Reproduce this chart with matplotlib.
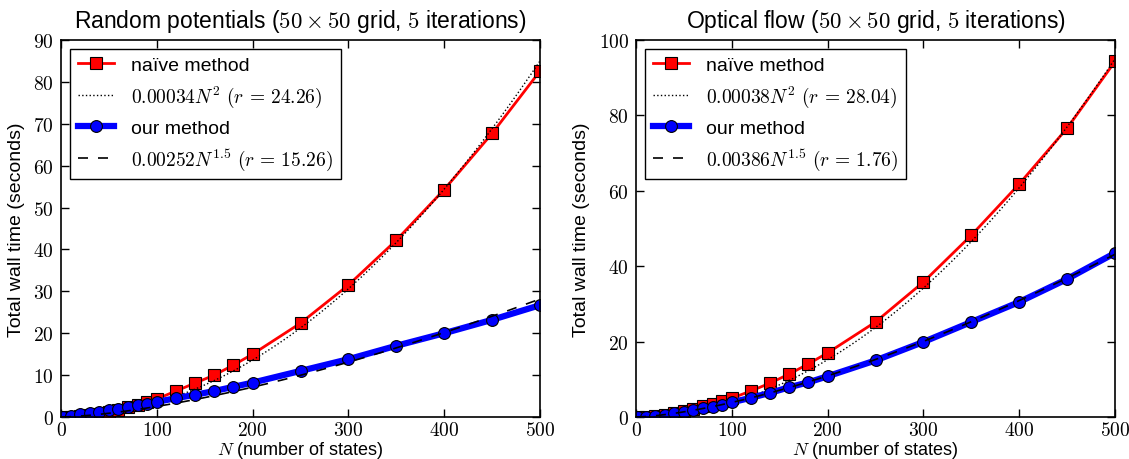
import matplotlib
matplotlib.use("Agg")
import matplotlib.pyplot as plt
import numpy as np
from matplotlib.ticker import FuncFormatter

plt.rcParams['font.family'] = ['Liberation Sans', 'DejaVu Sans']
plt.rcParams['mathtext.fontset'] = 'cm'

N = [2, 10, 20, 30, 40, 50, 60, 70, 80, 90, 100, 120, 140, 160, 180, 200,
     250, 300, 350, 400, 450, 500]

rp_naive = [0.0, 0.1, 0.25, 0.5, 0.8, 1.2, 1.7, 2.3, 2.9, 3.6, 4.3, 6.2, 8.1,
            10.0, 12.4, 15.0, 22.4, 31.5, 42.2, 54.3, 67.7, 82.6]
rp_ours = [0.02, 0.3, 0.6, 0.9, 1.2, 1.6, 2.0, 2.4, 2.8, 3.2, 3.6, 4.5, 5.3,
           6.2, 7.2, 8.2, 11.0, 13.8, 17.0, 20.0, 23.2, 26.7]

of_naive = [0.0, 0.1, 0.3, 0.6, 1.0, 1.5, 2.1, 2.8, 3.5, 4.2, 5.0, 6.9, 9.0,
            11.4, 14.1, 17.0, 25.2, 35.8, 48.2, 61.8, 76.6, 94.3]
of_ours = [0.01, 0.12, 0.35, 0.63, 0.98, 1.36, 1.8, 2.26, 2.76, 3.3, 3.9,
           5.1, 6.4, 7.9, 9.2, 10.8, 15.0, 19.9, 25.2, 30.5, 36.6, 43.5]

rp_fit = (0.00034, 0.00252, '24.26', '15.26')
of_fit = (0.00038, 0.00386, '28.04', '1.76')

titles = [r'Random potentials ($50\times50$ grid, $5$ iterations)',
          r'Optical flow ($50\times50$ grid, $5$ iterations)']
ylims = [90, 100]
yticks = [list(range(0, 91, 10)), list(range(0, 101, 20))]
xticks = [0, 100, 200, 300, 400, 500]

fig = plt.figure(figsize=(11.29, 4.6), dpi=100)
W, H = 1129, 460
axes = [fig.add_axes([61 / W, 1 - 418 / H, 479 / W, 377 / H]),
        fig.add_axes([636 / W, 1 - 418 / H, 479 / W, 377 / H])]

datasets = [(rp_naive, rp_ours, rp_fit), (of_naive, of_ours, of_fit)]
Nc = np.linspace(0, 500, 300)

for ax, (naive, ours, fit), title, ylim, yt in zip(axes, datasets, titles, ylims, yticks):
    a2, a15, r2, r15 = fit
    ax.plot(N, naive, '-s', color='red', lw=2, ms=8, mfc='red', mec='black',
            mew=0.8, label='naïve method')
    ax.plot(Nc, a2 * Nc ** 2, ':', color='black', lw=1,
            label=r'$%.5fN^2\ (r\,=\,%s)$' % (a2, r2))
    ax.plot(N, ours, '-o', color='blue', lw=4.5, ms=8.5, mfc='blue', mec='black',
            mew=0.8, label='our method')
    ax.plot(Nc, a15 * Nc ** 1.5, color='black', lw=1.2, dashes=(6, 6),
            label=r'$%.5fN^{1.5}\ (r\,=\,%s)$' % (a15, r15))
    ax.set_xlim(0, 500)
    ax.set_ylim(0, ylim)
    ax.set_xticks(xticks)
    ax.set_yticks(yt)
    ax.xaxis.set_major_formatter(FuncFormatter(lambda v, p: r'$%d$' % v))
    ax.yaxis.set_major_formatter(FuncFormatter(lambda v, p: r'$%d$' % v))
    ax.tick_params(direction='in', top=True, right=True, length=6, width=1,
                   labelsize=14, pad=5)
    ax.tick_params(axis='x', pad=3)
    for s in ax.spines.values():
        s.set_linewidth(1.2)
    ax.set_title(title, fontsize=16.5, pad=9)
    ax.set_xlabel(r'$N$ (number of states)', fontsize=13, labelpad=0)
    ax.set_ylabel('Total wall time (seconds)', fontsize=14, labelpad=6)
    leg = ax.legend(loc='upper left', prop={'size': 14}, frameon=True,
                    fancybox=False, edgecolor='black', framealpha=1,
                    borderpad=0.4, handlelength=1.9, handletextpad=0.85,
                    labelspacing=0.5, borderaxespad=0.45)
    leg.get_frame().set_linewidth(1.0)

fig.savefig('out.png', dpi=100)
